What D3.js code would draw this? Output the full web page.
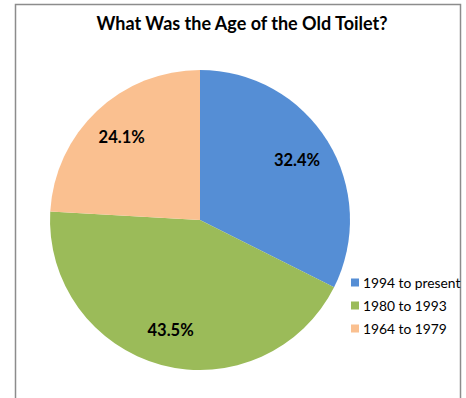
<!DOCTYPE html>
<html>
<head>
<meta charset="utf-8">
<script src="https://cdn.jsdelivr.net/npm/d3@7"></script>
<style>
  html, body { margin: 0; padding: 0; background: #fff; }
  svg { display: block; }
  text { font-family: Lato, "Open Sans", sans-serif; fill: #000; }
</style>
</head>
<body>
<svg id="chart" width="466" height="398"></svg>
<script>
// Age of the replaced toilet, share of responses
const categories = ["1994 to present", "1980 to 1993", "1964 to 1979"];
const shares = [32.4, 43.5, 24.1];
const sliceColors = ["#558ED5", "#9BBB59", "#FAC090"];
const chartTitle = "What Was the Age of the Old Toilet?";

const svg = d3.select("#chart");

// chart frame (bottom edge runs past the viewport)
svg.append("rect")
  .attr("x", 15.5).attr("y", 4.5)
  .attr("width", 445).attr("height", 420)
  .attr("fill", "#fff")
  .attr("stroke", "#8c8c8c")
  .attr("stroke-width", 1.5);

svg.append("text")
  .attr("x", 242).attr("y", 30)
  .attr("text-anchor", "middle")
  .attr("font-weight", "bold")
  .attr("font-size", 18)
  .text(chartTitle);

const data = categories.map((c, i) => ({ category: c, value: shares[i] }));
const color = d3.scaleOrdinal().domain(categories).range(sliceColors);

const cx = 200, cy = 220, R = 150;
const pie = d3.pie().value(d => d.value).sort(null);
const arc = d3.arc().innerRadius(0).outerRadius(R);
const labelArc = d3.arc().innerRadius(R * 0.76).outerRadius(R * 0.76);

const g = svg.append("g").attr("transform", `translate(${cx},${cy})`);
const arcs = pie(data);

g.selectAll("path.slice")
  .data(arcs)
  .join("path")
  .attr("class", "slice")
  .attr("d", arc)
  .attr("fill", d => color(d.data.category));

g.selectAll("text.pct")
  .data(arcs)
  .join("text")
  .attr("class", "pct")
  .attr("transform", d => `translate(${labelArc.centroid(d)})`)
  .attr("text-anchor", "middle")
  .attr("dy", "0.35em")
  .attr("font-weight", "bold")
  .attr("font-size", 16.5)
  .text(d => d3.format(".1f")(d.data.value) + "%");

// legend
const legendY = d3.scalePoint().domain(categories).range([283, 329]);
const legend = svg.append("g");
const items = legend.selectAll("g.item")
  .data(categories)
  .join("g")
  .attr("class", "item")
  .attr("transform", d => `translate(351,${legendY(d)})`);
items.append("rect")
  .attr("x", 0).attr("y", -4.5)
  .attr("width", 8).attr("height", 8)
  .attr("fill", d => color(d));
items.append("text")
  .attr("x", 12).attr("dy", "0.35em")
  .attr("font-size", 13.8)
  .attr("fill", "#222")
  .text(d => d);
</script>
</body>
</html>
